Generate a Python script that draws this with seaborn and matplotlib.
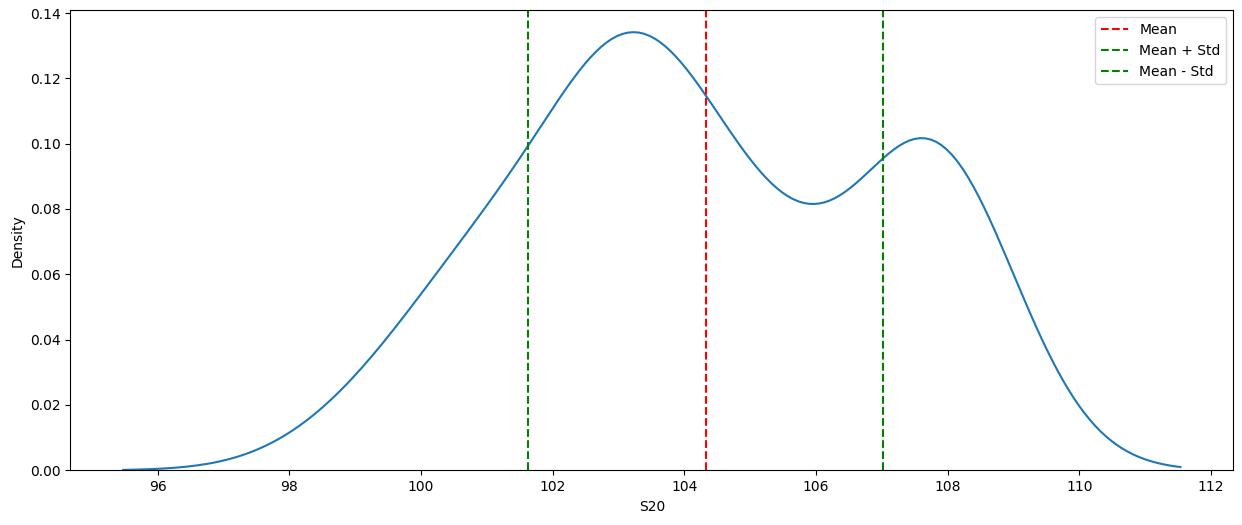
import numpy as np
import pandas as pd
import seaborn as sns
import matplotlib.pyplot as plt

# S20 observations (50 values)
s20_low = [99.17, 99.30, 100.10, 100.85, 100.92, 101.00, 101.05, 101.10, 101.18, 101.25,
           102.05]
s20_mid = [103.03, 103.05, 103.07, 103.09, 103.11, 103.13, 103.15, 103.17,
           103.19, 103.21, 103.23, 103.25, 103.27, 103.29, 103.31, 103.35]
s20_upper = [104.92, 104.98, 105.03, 105.07, 105.11, 105.15, 105.20, 105.23, 107.05]
s20_high = [107.84, 107.84, 107.84, 107.84, 107.84, 107.84, 107.83, 107.83, 107.83,
            107.83, 107.82, 107.82, 107.81, 107.81]

df = pd.DataFrame({'S20': s20_low + s20_mid + s20_upper + s20_high})

mean = df['S20'].mean()
std = df['S20'].std()

fig, ax = plt.subplots(figsize=(12.42, 5.25), dpi=100)
sns.kdeplot(data=df, x='S20', ax=ax)

ax.axvline(mean, color='red', linestyle='--', label='Mean')
ax.axvline(mean + std, color='green', linestyle='--', label='Mean + Std')
ax.axvline(mean - std, color='green', linestyle='--', label='Mean - Std')
ax.legend()

fig.subplots_adjust(left=0.0566, right=0.993, bottom=0.1042, top=0.9804)
fig.savefig('out.png', dpi=100)
